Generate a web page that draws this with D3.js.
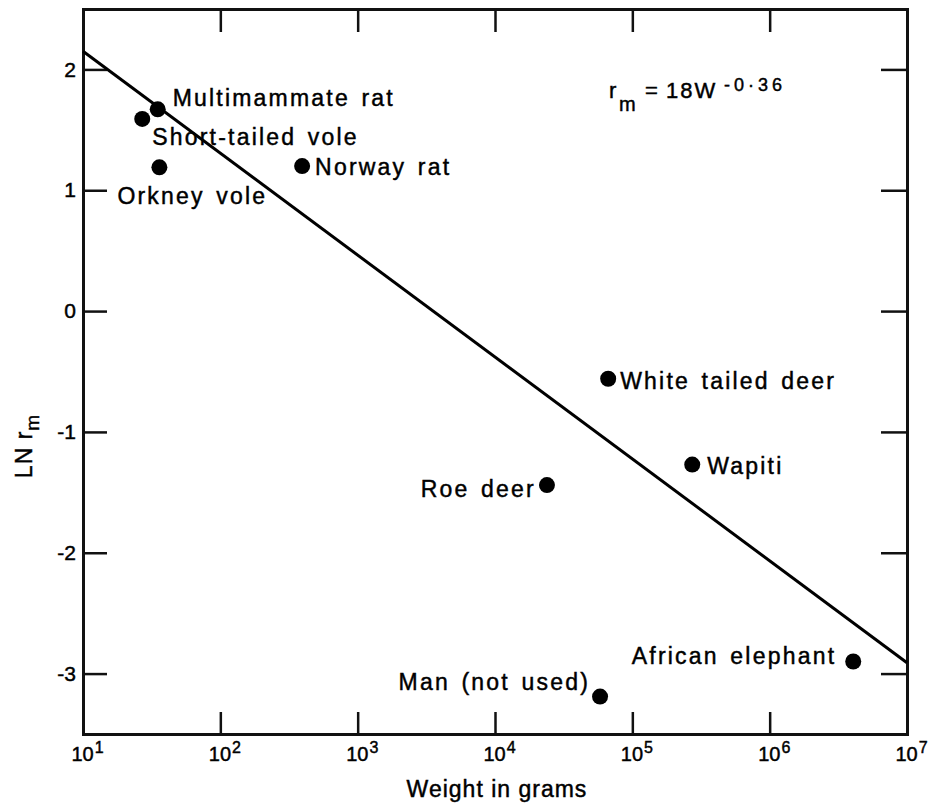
<!DOCTYPE html>
<html>
<head>
<meta charset="utf-8">
<script src="https://cdn.jsdelivr.net/npm/d3@7"></script>
<style>
  body { margin: 0; background: #fff; }
  text { font-family: "Liberation Sans", Arial, Helvetica, sans-serif; fill: #000; stroke: #000; stroke-width: 0.45px; }
</style>
</head>
<body>
<div id="chart"></div>
<script>
// species
var species = ["Multimammate rat", "Short-tailed vole", "Orkney vole", "Norway rat",
               "White tailed deer", "Wapiti", "Roe deer", "African elephant", "Man (not used)"];
var weights = [35, 27, 36, 394, 66700, 273000, 23900, 4060000, 58200];   // grams
var lnRm = [1.67, 1.59, 1.19, 1.20, -0.56, -1.27, -1.44, -2.90, -3.19];

// fitted line r_m = 18 W^-0.36, end points as drawn
var fitW = [10, 1e7];
var fitLn = [2.15, -2.91];

var xTickExps = [1, 2, 3, 4, 5, 6, 7];
var yTicks = [-3, -2, -1, 0, 1, 2];

// where each label sits relative to its dot: [dx, dy, anchor]
var labelPos = {
    "Multimammate rat": [15, -12, "start"],
    "Short-tailed vole": [10, 18, "start"],
    "Orkney vole": [-42, 28, "start"],
    "Norway rat": [13, 1, "start"],
    "White tailed deer": [12, 2, "start"],
    "Wapiti": [15, 1, "start"],
    "Roe deer": [-11, 4, "end"],
    "African elephant": [-17, -6, "end"],
    "Man (not used)": [-10, -15, "end"]
};

var width = 928, height = 804;
var plotLeft = 83, plotRight = 907, plotTop = 9, plotBottom = 734;

var svg = d3.select('#chart').append('svg').attr('width', width).attr('height', height);

var x = d3.scaleLog().domain([1e1, 1e7]).range([plotLeft, plotRight]);
var y = d3.scaleLinear().domain([-3.5, 2.5]).range([plotBottom, plotTop]);
var xTicks = xTickExps.map(function (e) { return Math.pow(10, e); });

function styleAxis(g) {
    g.selectAll('path.domain').attr('stroke', '#111').attr('stroke-width', 3).attr('stroke-linecap', 'square');
    g.selectAll('.tick line').attr('stroke', '#111').attr('stroke-width', 2.5);
}

// bottom axis, ticks pointing up, labels as 10 with exponent
var gx = svg.append('g').attr('transform', 'translate(0,' + plotBottom + ')')
    .call(d3.axisBottom(x).tickValues(xTicks).tickSizeInner(-22).tickSizeOuter(0).tickPadding(13));
styleAxis(gx);
gx.selectAll('.tick text').each(function (d) {
    var t = d3.select(this).text('').attr('text-anchor', 'start').attr('x', -12)
        .style('font-size', '20px').style('fill', '#000');
    t.append('tspan').text('10');
    t.append('tspan').attr('dy', '-0.5em').attr('dx', 1).style('font-size', '16px').text(Math.round(Math.log10(d)));
});

// top axis, ticks only
var gt = svg.append('g').attr('transform', 'translate(0,' + plotTop + ')')
    .call(d3.axisTop(x).tickValues(xTicks.slice(1, 6)).tickSizeInner(-23).tickSizeOuter(0).tickFormat(''));
styleAxis(gt);

// left axis
var gy = svg.append('g').attr('transform', 'translate(' + plotLeft + ',0)')
    .call(d3.axisLeft(y).tickValues(yTicks).tickSizeInner(-24).tickSizeOuter(0).tickPadding(7)
        .tickFormat(function (d) { return String(d); }));
styleAxis(gy);
gy.selectAll('.tick text').style('font-size', '21px').style('fill', '#000');

// right axis, ticks only
var gr = svg.append('g').attr('transform', 'translate(' + plotRight + ',0)')
    .call(d3.axisRight(y).tickValues(yTicks).tickSizeInner(-26).tickSizeOuter(0).tickFormat(''));
styleAxis(gr);

// fitted line
var fit = fitW.map(function (w, i) { return [w, fitLn[i]]; });
svg.append('path').datum(fit)
    .attr('d', d3.line().x(function (d) { return x(d[0]); }).y(function (d) { return y(d[1]); }))
    .attr('fill', 'none').attr('stroke', '#000').attr('stroke-width', 3);

// points
var pts = species.map(function (s, i) { return { name: s, w: weights[i], v: lnRm[i] }; });
svg.selectAll('circle.pt').data(pts).enter().append('circle')
    .attr('class', 'pt')
    .attr('cx', function (d) { return x(d.w); })
    .attr('cy', function (d) { return y(d.v); })
    .attr('r', 8)
    .attr('fill', '#000');

svg.selectAll('text.lbl').data(pts).enter().append('text')
    .attr('class', 'lbl')
    .attr('x', function (d) { return x(d.w) + labelPos[d.name][0]; })
    .attr('y', function (d) { return y(d.v) + labelPos[d.name][1]; })
    .attr('dy', '0.36em')
    .attr('text-anchor', function (d) { return labelPos[d.name][2]; })
    .style('font-size', '23px').style('letter-spacing', '2.2px').style('word-spacing', '3px')
    .text(function (d) { return d.name; });

// formula
var f = svg.append('text').attr('y', 98).style('font-size', '22px');
f.append('tspan').attr('x', 609).text('r');
f.append('tspan').attr('x', 619).attr('dy', 13).style('font-size', '20px').text('m');
f.append('tspan').attr('x', 645).attr('dy', -13).text('=');
f.append('tspan').attr('x', 666).style('letter-spacing', '2px').text('18W');
f.append('tspan').attr('x', 724).attr('dy', -7).style('font-size', '18px').style('letter-spacing', '4px').text('-0·36');

// axis titles
svg.append('text').attr('x', 497).attr('y', 797).attr('text-anchor', 'middle')
    .style('font-size', '23px').style('letter-spacing', '1px').text('Weight in grams');

var yl = svg.append('text').attr('transform', 'translate(32,446) rotate(-90)')
    .attr('text-anchor', 'middle').style('font-size', '23px').style('letter-spacing', '1px');
yl.append('tspan').text('LN r');
yl.append('tspan').attr('dy', 7).style('font-size', '19px').text('m');
</script>
</body>
</html>
